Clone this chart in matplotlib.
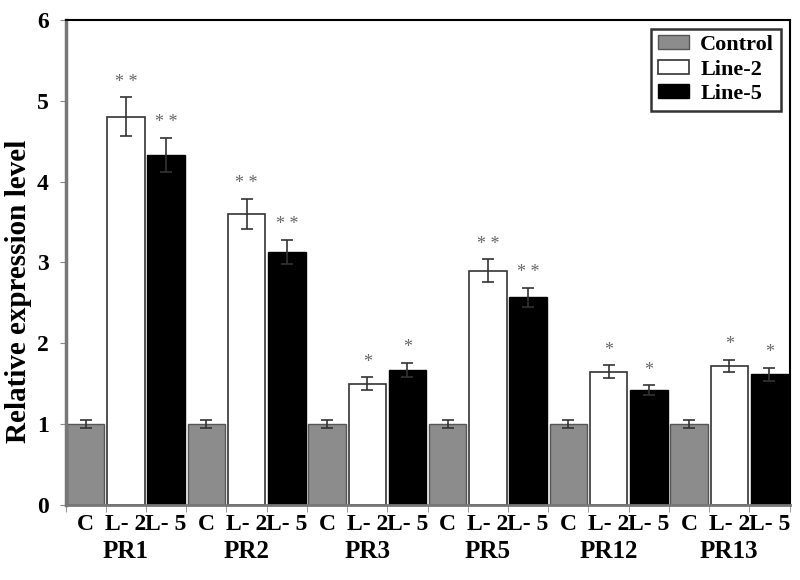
import matplotlib.pyplot as plt
import numpy as np
from matplotlib.transforms import blended_transform_factory

plt.rcParams['font.family'] = ['Liberation Serif', 'DejaVu Serif']
plt.rcParams['font.weight'] = 'bold'
plt.rcParams['axes.labelweight'] = 'bold'

genes = ['PR1', 'PR2', 'PR3', 'PR5', 'PR12', 'PR13']
control = [1.0, 1.0, 1.0, 1.0, 1.0, 1.0]
control_err = [0.05, 0.05, 0.05, 0.05, 0.05, 0.05]
line2 = [4.80, 3.60, 1.50, 2.90, 1.65, 1.72]
line2_err = [0.24, 0.19, 0.08, 0.14, 0.08, 0.08]
line5 = [4.33, 3.13, 1.67, 2.57, 1.42, 1.62]
line5_err = [0.21, 0.15, 0.09, 0.12, 0.06, 0.08]
line2_sig = ['* *', '* *', '*', '* *', '*', '*']
line5_sig = ['* *', '* *', '*', '* *', '*', '*']
bar_labels = ['C', 'L- 2', 'L- 5']

fig = plt.figure(figsize=(8, 5.8), dpi=100)
ax = fig.add_axes([0.082, 0.129, 0.905, 0.837])

x = np.arange(len(genes)) * 3  # 每组三根柱子，位置连续
w = 0.93
ek = dict(ecolor='#333333', elinewidth=1.2, capsize=4, capthick=1.2)
ax.bar(x, control, w, yerr=control_err, color='#8c8c8c', edgecolor='#555555', linewidth=1, label='Control', error_kw=ek)
ax.bar(x + 1, line2, w, yerr=line2_err, color='white', edgecolor='#333333', linewidth=1.2, label='Line-2', error_kw=ek)
ax.bar(x + 2, line5, w, yerr=line5_err, color='black', edgecolor='black', linewidth=1, label='Line-5', error_kw=ek)

# 显著性星号
for i in range(len(genes)):
    ax.text(x[i] + 1, line2[i] + line2_err[i] + 0.08, line2_sig[i], ha='center', va='bottom', fontsize=13, color='#666666', fontweight='normal')
    ax.text(x[i] + 2, line5[i] + line5_err[i] + 0.08, line5_sig[i], ha='center', va='bottom', fontsize=13, color='#666666', fontweight='normal')

ax.set_xlim(-0.5, len(genes) * 3 - 0.5)
ax.set_ylim(0, 6)
ax.set_yticks(range(7))
ax.tick_params(axis='y', labelsize=17, length=4, color='#888888', pad=8)

centers = np.arange(len(genes) * 3)
ax.set_xticks(centers)
ax.set_xticklabels(bar_labels * len(genes))
ax.tick_params(axis='x', which='major', length=0, labelsize=17, pad=6)
ax.set_xticks(np.arange(len(genes) * 3 + 1) - 0.5, minor=True)
ax.tick_params(axis='x', which='minor', length=5, color='#888888')

trans = blended_transform_factory(ax.transData, ax.transAxes)
for i, g in enumerate(genes):
    ax.text(x[i] + 1, -0.095, g, transform=trans, ha='center', va='center', fontsize=18)

ax.set_ylabel('Relative expression level', fontsize=21)
ax.yaxis.set_label_coords(-0.046, 0.44)

ax.spines['left'].set_color('#777777')
ax.spines['left'].set_linewidth(2.5)
ax.spines['bottom'].set_color('#777777')
ax.spines['bottom'].set_linewidth(2)
ax.spines['top'].set_linewidth(1.5)
ax.spines['right'].set_linewidth(1.5)

leg = ax.legend(loc='upper right', fontsize=16, frameon=True, fancybox=False, edgecolor='black',
                handlelength=1.4, handleheight=0.6, borderaxespad=0.4, labelspacing=0.2,
                handletextpad=0.5, borderpad=0.3)
leg.get_frame().set_linewidth(1.8)

plt.savefig('out.png')
